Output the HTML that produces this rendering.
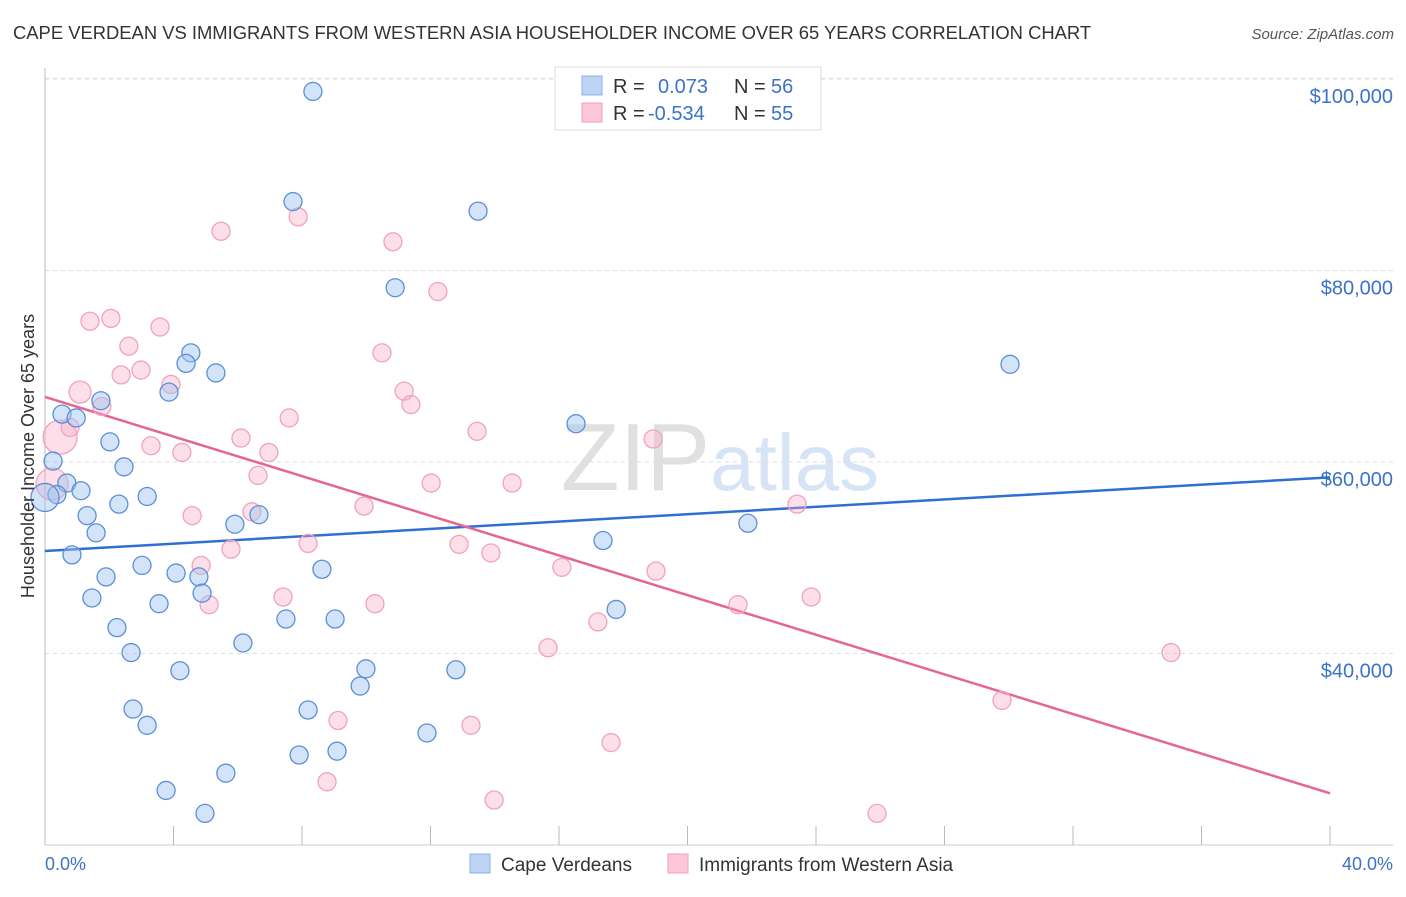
<!DOCTYPE html>
<html><head><meta charset="utf-8">
<style>
body{margin:0;background:#fff;font-family:"Liberation Sans",sans-serif;}
svg text{font-family:"Liberation Sans",sans-serif;}
</style></head>
<body>
<svg id="chart" width="1406" height="892" xmlns="http://www.w3.org/2000/svg">
<text x="13" y="39" font-size="18.4" fill="#333">CAPE VERDEAN VS IMMIGRANTS FROM WESTERN ASIA HOUSEHOLDER INCOME OVER 65 YEARS CORRELATION CHART</text>
<text x="1394" y="39" font-size="15" fill="#555" font-style="italic" text-anchor="end">Source: ZipAtlas.com</text>
<text x="720" y="490" font-size="96" fill="#e8e8e8" text-anchor="middle" font-family="Liberation Serif"><tspan fill="#e0e0e0">ZIP</tspan><tspan fill="#d6e4f5" font-family="Liberation Sans" font-size="80">atlas</tspan></text>
<g id="grid"></g>
<g id="axes"></g>
<g id="lines"></g>
<g id="points"></g>
<text transform="translate(34,456) rotate(-90)" font-size="18" fill="#333" text-anchor="middle">Householder Income Over 65 years</text>
<text x="45" y="870" font-size="18" fill="#3b73c9">0.0%</text>
<text x="1393" y="870" font-size="18" fill="#3b73c9" text-anchor="end">40.0%</text>
<g>
<rect x="555" y="67" width="266" height="63" fill="#fff" stroke="#ddd"/>
<rect x="582" y="76" width="20" height="19" fill="#bcd5f5" stroke="#8ab0e6"/>
<rect x="582" y="103" width="20" height="19" fill="#fcc8d8" stroke="#f2a0ba"/>
<text x="613" y="93" font-size="20" fill="#333">R =</text>
<text x="658" y="93" font-size="20" fill="#3b73c9">0.073</text>
<text x="734" y="93" font-size="20" fill="#333">N =</text>
<text x="771" y="93" font-size="20" fill="#3b73c9">56</text>
<text x="613" y="120" font-size="20" fill="#333">R =</text>
<text x="648" y="120" font-size="20" fill="#3b73c9">-0.534</text>
<text x="734" y="120" font-size="20" fill="#333">N =</text>
<text x="771" y="120" font-size="20" fill="#3b73c9">55</text>
</g>
<g>
<rect x="470" y="854" width="20" height="19" fill="#bcd5f5" stroke="#8ab0e6"/>
<text x="501" y="871" font-size="19" fill="#333">Cape Verdeans</text>
<rect x="668" y="854" width="20" height="19" fill="#fcc8d8" stroke="#f2a0ba"/>
<text x="699" y="871" font-size="19" fill="#333">Immigrants from Western Asia</text>
</g>
</svg>
<script>
const yTicks=[40000,60000,80000,100000];
const yTickLabels=["$40,000","$60,000","$80,000","$100,000"];
const xTicks=[0,4,8,12,16,20,24,28,32,36,40];
const blueX=[8.34,7.72,13.48,10.9,30.04,4.54,4.39,5.32,3.86,1.74,0.53,0.97,16.53,2.02,0.25,2.46,0.68,1.12,0.37,0,3.18,2.30,1.31,6.66,5.91,21.88,1.59,17.37,0.84,3.02,8.62,4.08,1.9,4.79,4.89,1.46,3.55,17.78,7.5,9.03,2.24,6.16,2.68,4.2,9.99,12.79,9.81,2.74,8.19,3.18,11.89,9.09,7.91,5.63,3.77,4.98];
const blueY=[98.7,87.2,86.2,78.2,70.2,71.4,70.3,69.3,67.3,66.4,65.0,64.6,64.0,62.1,60.1,59.5,57.8,57.0,56.6,56.3,56.4,55.6,54.4,54.5,53.5,53.6,52.6,51.8,50.3,49.2,48.8,48.4,48.0,48.0,46.3,45.8,45.2,44.6,43.6,43.6,42.7,41.1,40.1,38.2,38.4,38.3,36.6,34.2,34.1,32.5,31.7,29.8,29.4,27.5,25.7,23.3];
const blueR=[9,9,9,9,9,9,9,9,9,9,9,9,9,9,9,9,9,9,9,14,9,9,9,9,9,9,9,9,9,9,9,9,9,9,9,9,9,9,9,9,9,9,9,9,9,9,9,9,9,9,9,9,9,9,9,9];
const pinkX=[7.88,5.48,10.83,12.23,1.4,2.05,3.58,2.61,10.49,2.37,2.99,3.92,1.09,11.18,1.77,11.39,7.6,0.78,0.47,13.45,18.93,6.1,3.3,4.26,6.97,6.63,12.02,14.54,0.22,9.93,23.41,4.58,6.44,8.19,12.89,5.79,13.88,4.86,16.09,19.02,7.41,23.85,5.11,10.27,21.57,17.21,15.66,35.05,29.79,9.12,13.26,17.62,8.78,13.98,25.9];
const pinkY=[85.6,84.1,83.0,77.8,74.7,75.0,74.1,72.1,71.4,69.1,69.6,68.1,67.3,67.4,65.8,66.0,64.6,63.6,62.6,63.2,62.4,62.5,61.7,61.0,61.0,58.6,57.8,57.8,57.7,55.4,55.6,54.4,54.8,51.5,51.4,50.9,50.5,49.2,49.0,48.6,45.9,45.9,45.1,45.2,45.1,43.3,40.6,40.1,35.1,33.0,32.5,30.7,26.6,24.7,23.3];
const pinkR=[9,9,9,9,9,9,9,9,9,9,9,9,11,9,9,9,9,9,17,9,9,9,9,9,9,9,9,9,16,9,9,9,9,9,9,9,9,9,9,9,9,9,9,9,9,9,9,9,9,9,9,9,9,9,9];
const blueTrend=[50.7,58.4];
const pinkTrend=[66.8,25.4];
const NS="http://www.w3.org/2000/svg";
const X0=45,X1=1330,YB=845;
function xs(v){return X0+v/40*(X1-X0);}
function ys(k){return YB-(k-20)/20*191.5;}
function mk(t,a,p){const e=document.createElementNS(NS,t);for(const k in a)e.setAttribute(k,a[k]);p.appendChild(e);return e;}
const gridG=document.getElementById('grid'),axesG=document.getElementById('axes'),linesG=document.getElementById('lines'),ptsG=document.getElementById('points');
yTicks.forEach((t,i)=>{const y=ys(t/1000);
 const l=mk('line',{x1:X0,x2:1393,y1:y,y2:y,stroke:'#ddd','stroke-dasharray':'4,4'},gridG);
 
 
 const tx=mk('text',{x:1393,y:y+24,'font-size':20,fill:'#3b73c9','text-anchor':'end'},gridG);
 
 
 tx.textContent=yTickLabels[i];});
const topGrid=mk('line',{x1:X0,x2:1393,y1:ys(100)-0.5,y2:ys(100)-0.5,stroke:'#ddd','stroke-dasharray':'4,4'},gridG);


const ya=mk('line',{x1:X0,x2:X0,y1:68,y2:YB,stroke:'#bbb'},axesG);


const xa=mk('line',{x1:X0,x2:1393,y1:YB,y2:YB,stroke:'#ccc'},axesG);


xTicks.forEach(t=>{const x=xs(t);const l=mk('line',{x1:x,x2:x,y1:826,y2:YB,stroke:'#bbb'},axesG);
 
 });
function dots(X,Y,R,fill,stroke,name){X.forEach((v,i)=>{const c=mk('circle',{cx:xs(v),cy:ys(Y[i]),r:R[i],fill:fill,stroke:stroke,'stroke-width':1.3},ptsG);
 
 });}
dots(pinkX,pinkY,pinkR,'rgba(248,170,195,0.38)','#f0a3bb','point-immigrants');
dots(blueX,blueY,blueR,'rgba(160,195,240,0.45)','#5b8fd8','point-cape-verdean');
const bl=mk('line',{x1:xs(0),x2:xs(40),y1:ys(blueTrend[0]),y2:ys(blueTrend[1]),stroke:'#2f6fd1','stroke-width':2.5},linesG);


const pl=mk('line',{x1:xs(0),x2:xs(40),y1:ys(pinkTrend[0]),y2:ys(pinkTrend[1]),stroke:'#e5668f','stroke-width':2.5},linesG);


</script>
</body></html>
